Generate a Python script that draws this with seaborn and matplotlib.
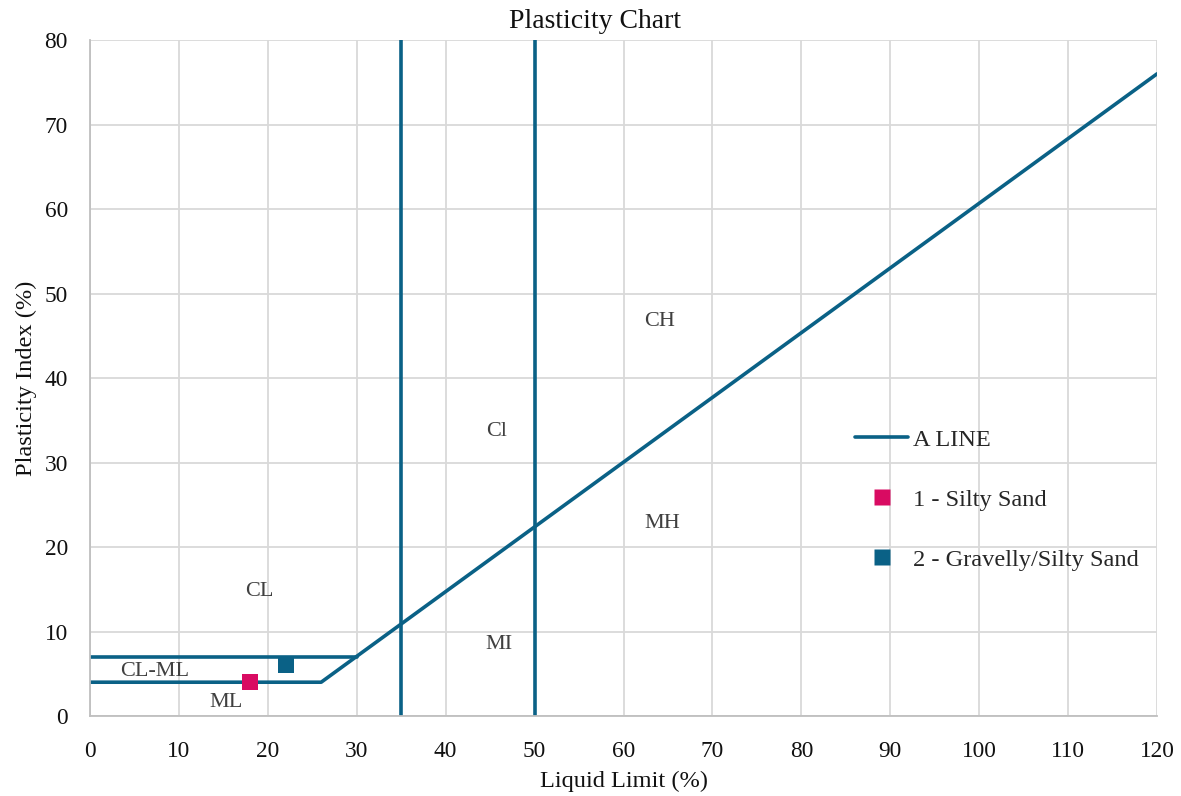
import matplotlib
matplotlib.use("Agg")
import matplotlib.pyplot as plt
from matplotlib.lines import Line2D
import seaborn as sns
import pandas as pd

# ---- data ----
aline_x = [0, 26, 120]
aline_y = [4, 4, 76]
upper_x = [0, 30]
upper_y = [7, 7]
ci_x = [35, 35]
ci_y = [0, 80]
ih_x = [50, 50]
ih_y = [0, 80]
sample_names = ["1 - Silty Sand", "2 - Gravelly/Silty Sand"]
sample_ll = [18, 22]
sample_pi = [4, 6]
zone_labels = ["CL", "CL-ML", "ML", "Cl", "MI", "CH", "MH"]
zone_x = [19.0, 7.3, 15.3, 45.7, 46.0, 64.1, 64.4]
zone_y = [14.7, 5.3, 1.6, 33.7, 8.5, 46.7, 22.8]
x_ticks = list(range(0, 121, 10))
y_ticks = list(range(0, 81, 10))

LINE_C = "#0a6186"
PINK = "#d90b62"
sample_colors = [PINK, LINE_C]

sns.set_theme(style="white")
plt.rcParams["font.family"] = ["Liberation Serif", "DejaVu Serif"]
FS = 16
FS_T = 16.8
FS_L = 17.6

fig = plt.figure(figsize=(11.81, 7.96), dpi=100)
ax = fig.add_axes([0.0762, 0.1005, 0.9035, 0.8492])

lw = 2.6
for xs, ys in [(aline_x, aline_y), (upper_x, upper_y), (ci_x, ci_y), (ih_x, ih_y)]:
    sns.lineplot(x=xs, y=ys, ax=ax, color=LINE_C, lw=lw, sort=False,
                 estimator=None, errorbar=None, legend=False)

df = pd.DataFrame({"LL": sample_ll, "PI": sample_pi, "name": sample_names})
sns.scatterplot(data=df, x="LL", y="PI", hue="name", palette=sample_colors,
                marker="s", s=130, edgecolor="none", ax=ax, legend=False, zorder=5)

for t, x, y in zip(zone_labels, zone_x, zone_y):
    ax.text(x, y, t, ha="center", va="center", fontsize=FS, color="#404040")

ax.set_xlim(0, 120)
ax.set_ylim(0, 80)
ax.set_xticks(x_ticks)
ax.set_yticks(y_ticks)
ax.tick_params(axis="both", labelsize=FS_T, colors="#111111", length=0)
ax.tick_params(axis="x", pad=18)
ax.tick_params(axis="y", pad=16)
ax.grid(True, color="#d9d9d9", lw=1.3)
ax.set_axisbelow(True)
for s in ["top", "right"]:
    ax.spines[s].set_visible(False)
for s in ["left", "bottom"]:
    ax.spines[s].set_color("#bfbfbf")
    ax.spines[s].set_linewidth(1.3)

ax.set_xlabel("Liquid Limit (%)", fontsize=FS_L, color="#111111", labelpad=6)
ax.set_ylabel("Plasticity Index (%)", fontsize=FS_L, color="#111111", labelpad=5)
fig.text(0.504, 0.973, "Plasticity Chart", fontsize=20, color="#111111",
         ha="center", va="center")

handles = [
    Line2D([0], [0], color=LINE_C, lw=lw),
    Line2D([0], [0], color=PINK, marker="s", ls="none", markersize=11, markeredgecolor="none"),
    Line2D([0], [0], color=LINE_C, marker="s", ls="none", markersize=11, markeredgecolor="none"),
]
ax.legend(handles, ["A LINE"] + sample_names, loc="center left",
          bbox_to_anchor=(0.696, 0.32), frameon=False, fontsize=FS_L,
          labelspacing=1.55, handlelength=2.2, handletextpad=0.2)

fig.savefig("out.png", dpi=100)
